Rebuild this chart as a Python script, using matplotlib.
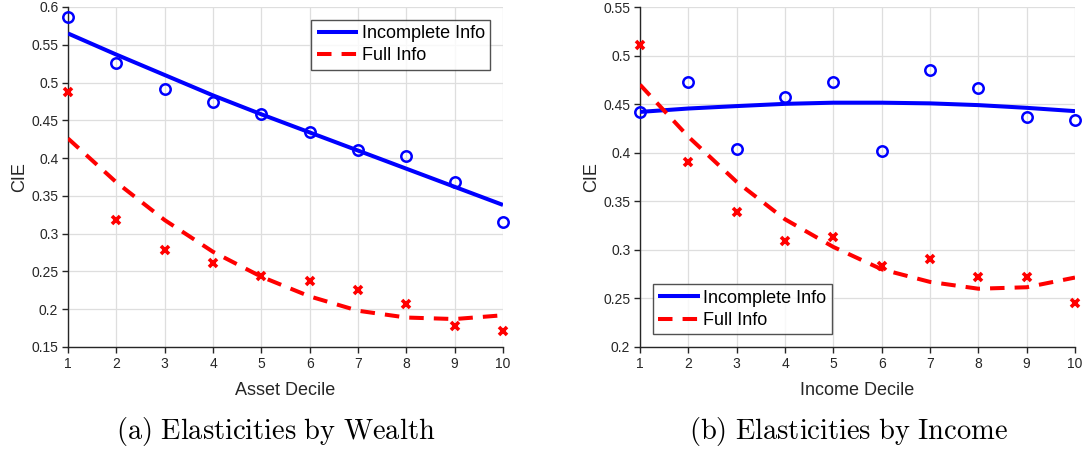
import matplotlib
matplotlib.use("Agg")
import matplotlib.pyplot as plt
from matplotlib.ticker import FuncFormatter, MultipleLocator

plt.rcParams["font.family"] = ["Liberation Sans", "DejaVu Sans"]
plt.rcParams["mathtext.fontset"] = "cm"

deciles = list(range(1, 11))

# Panel (a): elasticities by asset decile
wealth_incomplete = [0.587, 0.526, 0.492, 0.474, 0.458, 0.434, 0.411, 0.403, 0.369, 0.316]
wealth_incomplete_fit = [0.565, 0.537, 0.510, 0.483, 0.458, 0.434, 0.410, 0.386, 0.362, 0.338]
wealth_full = [0.488, 0.318, 0.278, 0.261, 0.244, 0.237, 0.2255, 0.2065, 0.178, 0.171]
wealth_full_fit = [0.426, 0.368, 0.318, 0.276, 0.243, 0.217, 0.198, 0.189, 0.187, 0.192]

# Panel (b): elasticities by income decile
income_incomplete = [0.4416, 0.4728, 0.404, 0.4577, 0.4728, 0.402, 0.4855, 0.4666, 0.437, 0.434]
income_incomplete_fit = [0.442, 0.4455, 0.448, 0.4503, 0.4515, 0.4515, 0.4508, 0.449, 0.4462, 0.4428]
income_full = [0.511, 0.390, 0.339, 0.309, 0.3136, 0.2834, 0.291, 0.2717, 0.2717, 0.2456]
income_full_fit = [0.470, 0.4165, 0.370, 0.3315, 0.303, 0.280, 0.267, 0.260, 0.2615, 0.2715]

series_labels = ["Incomplete Info", "Full Info"]
x_labels = ["Asset Decile", "Income Decile"]
captions = [r"$\mathrm{(a)\ Elasticities\ by\ Wealth}$",
            r"$\mathrm{(b)\ Elasticities\ by\ Income}$"]

TXT = "#262626"
BLUE = "#0000ff"
RED = "#ff0000"

fig = plt.figure(figsize=(10.87, 4.5), dpi=100)
ax_a = fig.add_axes([68 / 1087, 103 / 450, 435 / 1087, 340 / 450])
ax_b = fig.add_axes([640 / 1087, 103 / 450, 435 / 1087, 340 / 450])

fmt = FuncFormatter(lambda v, p: f"{v:g}")


def draw_panel(ax, pts_inc, fit_inc, pts_full, fit_full, ylim, xlabel, legend_loc):
    l1, = ax.plot(deciles, fit_inc, color=BLUE, lw=2.9, solid_capstyle="butt",
                  label=series_labels[0], zorder=3)
    l2, = ax.plot(deciles, fit_full, color=RED, lw=2.9, linestyle=(0, (3.6, 2.5)),
                  dash_capstyle="butt", label=series_labels[1], zorder=3)
    ax.plot(deciles, pts_inc, linestyle="none", marker="o", ms=7.5, mfc="none",
            mec=BLUE, mew=1.8, clip_on=False, zorder=4)
    ax.plot(deciles, pts_full, linestyle="none", marker="x", ms=5.5,
            mec=RED, mew=2.6, clip_on=False, zorder=4)

    ax.set_xlim(1, 10)
    ax.set_ylim(*ylim)
    ax.xaxis.set_major_locator(MultipleLocator(1))
    ax.yaxis.set_major_locator(MultipleLocator(0.05))
    ax.yaxis.set_major_formatter(fmt)
    ax.grid(True, color="#dedede", lw=0.9)
    ax.set_axisbelow(True)
    for s in ("top", "right"):
        ax.spines[s].set_visible(False)
    for s in ("left", "bottom"):
        ax.spines[s].set_color(TXT)
        ax.spines[s].set_linewidth(1.0)
    ax.tick_params(direction="out", length=4, width=1.0, colors=TXT,
                   labelsize=10, pad=3)
    ax.set_ylabel("CIE", fontsize=13, color=TXT, labelpad=2)
    ax.set_xlabel(xlabel, fontsize=13, color=TXT, labelpad=8)
    leg = ax.legend(handles=[l1, l2], loc=legend_loc, fontsize=13,
                    frameon=True, fancybox=False, handlelength=2.3,
                    handletextpad=0.2, borderpad=0.3, labelspacing=0.3,
                    borderaxespad=0.7)
    leg.get_frame().set_edgecolor(TXT)
    leg.get_frame().set_linewidth(1.0)
    for t in leg.get_texts():
        t.set_color("black")
    return leg


draw_panel(ax_a, wealth_incomplete, wealth_incomplete_fit, wealth_full,
           wealth_full_fit, (0.15, 0.6), x_labels[0], "upper right")
draw_panel(ax_b, income_incomplete, income_incomplete_fit, income_full,
           income_full_fit, (0.2, 0.55), x_labels[1], "lower left")

fig.text(276 / 1087, 1 - 431 / 450, captions[0], ha="center", va="center",
         fontsize=20.5, color="black")
fig.text(849 / 1087, 1 - 431 / 450, captions[1], ha="center", va="center",
         fontsize=20.5, color="black")

fig.savefig("out.png", dpi=100, facecolor="white")
